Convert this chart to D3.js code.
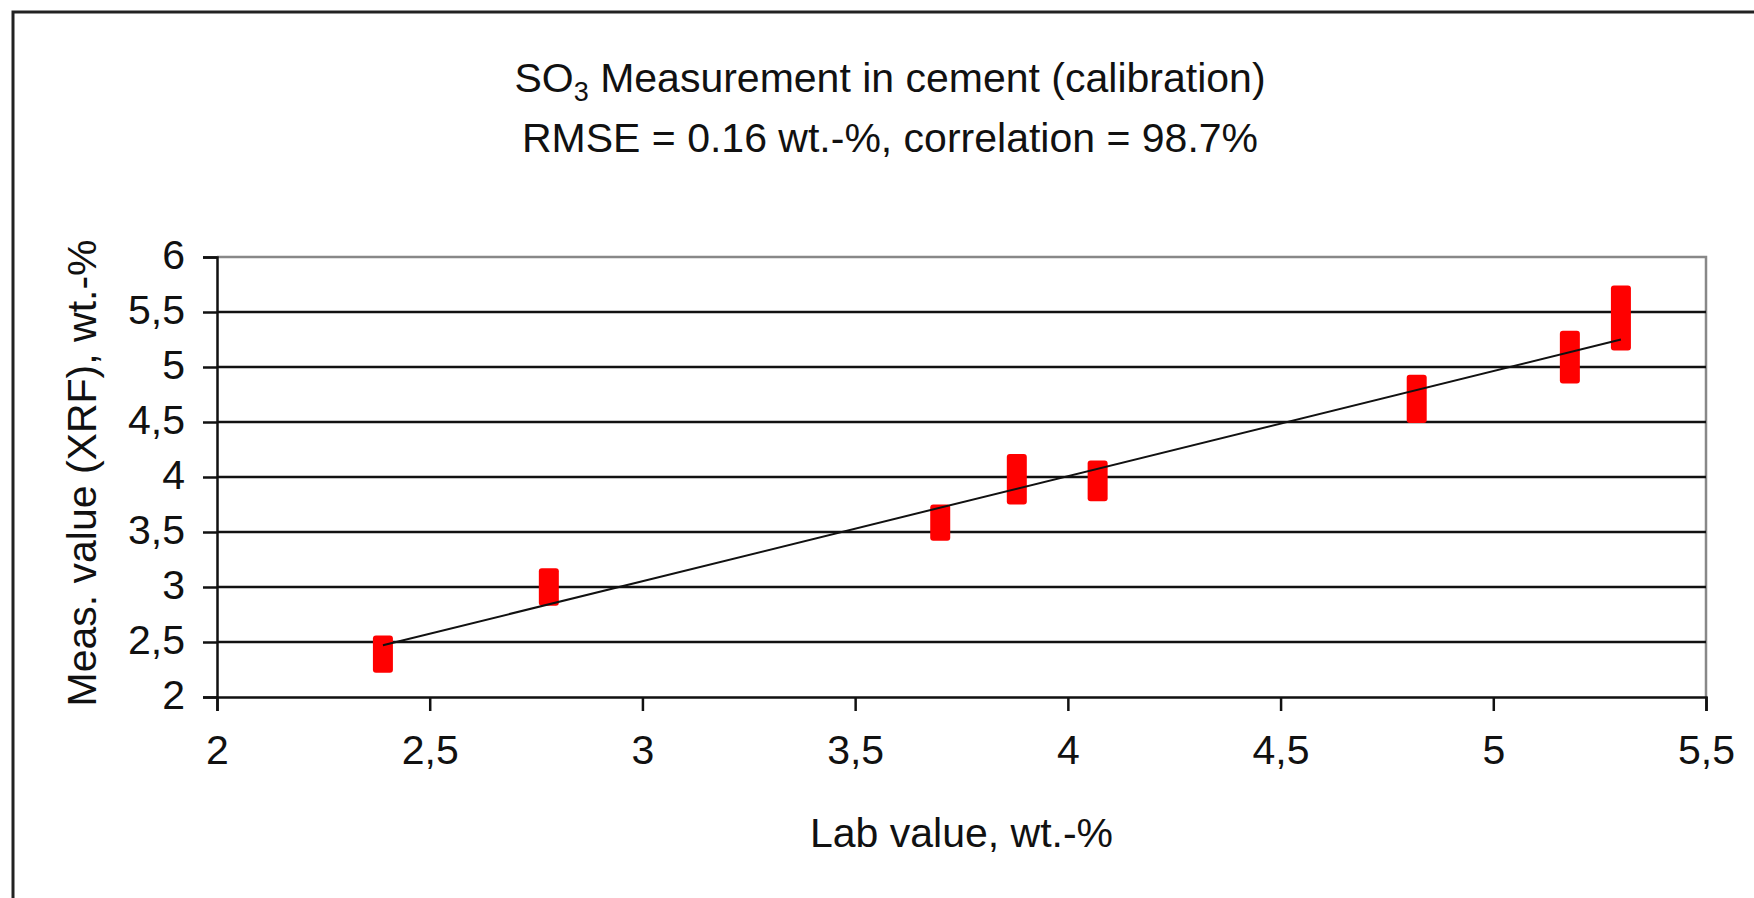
<!DOCTYPE html>
<html lang="en">
<head>
    <meta charset="UTF-8">
    <title>SO3 Measurement in cement</title>
    <style>
        body { margin: 0; background: #fff; }
        text {
            font-family: 'Liberation Sans', Arial, sans-serif;
            font-size: 41px;
            fill: #111;
        }
        .grid { stroke: #111; stroke-width: 2.5px; }
        .axis path, .axis line { stroke: #111; stroke-width: 2.5px; }
    </style>
</head>
<body>

<script src="https://d3js.org/d3.v7.min.js"></script>
<script>

    // lab value (x) and measured XRF range (low / high) of each sample
    const labValue = [2.39, 2.78, 3.70, 3.88, 4.07, 4.82, 5.18, 5.30];
    const measLow  = [2.22, 2.83, 3.42, 3.75, 3.78, 4.49, 4.85, 5.15];
    const measHigh = [2.56, 3.17, 3.75, 4.21, 4.15, 4.93, 5.33, 5.74];

    // linear trend line end points
    const trendX = [2.39, 5.30];
    const trendY = [2.47, 5.25];

    const xTicks = [2, 2.5, 3, 3.5, 4, 4.5, 5, 5.5];
    const xTickLabels = ['2', '2,5', '3', '3,5', '4', '4,5', '5', '5,5'];
    const yTicks = [2, 2.5, 3, 3.5, 4, 4.5, 5, 5.5, 6];
    const yTickLabels = ['2', '2,5', '3', '3,5', '4', '4,5', '5', '5,5', '6'];

    const size = {'width': 1754, 'height': 898};
    const plot = {'left': 217, 'right': 1706, 'top': 257, 'bottom': 697};

    let svg = d3.select('body').append('svg')
        .attr('width', size.width)
        .attr('height', size.height);

    svg.append('rect')
        .attr('width', size.width)
        .attr('height', size.height)
        .style('fill', '#fff');

    // outer chart frame (runs off the right and bottom edge)
    svg.append('rect')
        .attr('x', 13)
        .attr('y', 12)
        .attr('width', size.width + 20)
        .attr('height', size.height + 20)
        .style('fill', 'none')
        .style('stroke', '#222')
        .style('stroke-width', '3px');

    let x = d3.scaleLinear().domain([2, 5.5]).range([plot.left, plot.right]);
    let y = d3.scaleLinear().domain([2, 6]).range([plot.bottom, plot.top]);

    // title
    let title = svg.append('text')
        .attr('x', 890)
        .attr('y', 92)
        .attr('text-anchor', 'middle');
    title.append('tspan').text('SO');
    title.append('tspan').text('3').attr('dy', 9).style('font-size', '27px');
    title.append('tspan').text(' Measurement in cement (calibration)').attr('dy', -9);

    svg.append('text')
        .attr('x', 890)
        .attr('y', 152)
        .attr('text-anchor', 'middle')
        .text('RMSE = 0.16 wt.-%, correlation = 98.7%');

    // plot area border (top / right)
    svg.append('path')
        .attr('d', 'M' + plot.left + ',' + plot.top + 'H' + plot.right + 'V' + plot.bottom)
        .style('fill', 'none')
        .style('stroke', '#888')
        .style('stroke-width', '2.5px');

    // horizontal grid lines
    svg.append('g').selectAll('line')
        .data(yTicks.slice(1, -1))
        .enter().append('line')
        .classed('grid', true)
        .attr('x1', plot.left)
        .attr('x2', plot.right)
        .attr('y1', function(d) { return y(d); })
        .attr('y2', function(d) { return y(d); });

    let xAxis = svg.append('g')
        .classed('axis', true)
        .attr('transform', 'translate(0,' + plot.bottom + ')')
        .call(d3.axisBottom(x)
            .tickValues(xTicks)
            .tickFormat(function(d, i) { return xTickLabels[i]; })
            .tickSizeOuter(0)
            .tickSize(14)
            .tickPadding(24));

    let yAxis = svg.append('g')
        .classed('axis', true)
        .attr('transform', 'translate(' + plot.left + ',0)')
        .call(d3.axisLeft(y)
            .tickValues(yTicks)
            .tickFormat(function(d, i) { return yTickLabels[i]; })
            .tickSizeOuter(0)
            .tickSize(14)
            .tickPadding(18));

    svg.selectAll('.axis text')
        .style('font-family', "'Liberation Sans', Arial, sans-serif")
        .style('font-size', '41px')
        .style('fill', '#111');
    yAxis.selectAll('text').attr('dy', '0.28em');

    // axis titles
    svg.append('text')
        .attr('x', (plot.left + plot.right) / 2)
        .attr('y', 847)
        .attr('text-anchor', 'middle')
        .text('Lab value, wt.-%');

    svg.append('text')
        .attr('transform', 'translate(96,473) rotate(-90)')
        .attr('text-anchor', 'middle')
        .text('Meas. value (XRF), wt.-%');

    // samples: red bars spanning the measured range
    let samples = labValue.map(function(d, i) {
        return {'lab': d, 'low': measLow[i], 'high': measHigh[i]};
    });

    svg.append('g').selectAll('rect')
        .data(samples)
        .enter().append('rect')
        .attr('x', function(d) { return x(d.lab) - 10; })
        .attr('y', function(d) { return y(d.high); })
        .attr('width', 20)
        .attr('height', function(d) { return y(d.low) - y(d.high); })
        .attr('rx', 3)
        .style('fill', '#f00');

    // trend line
    svg.append('path')
        .datum(trendX.map(function(d, i) { return {'x': d, 'y': trendY[i]}; }))
        .attr('d', d3.line()
            .x(function(d) { return x(d.x); })
            .y(function(d) { return y(d.y); }))
        .style('fill', 'none')
        .style('stroke', '#111')
        .style('stroke-width', '2px');

</script>

</body>
</html>
